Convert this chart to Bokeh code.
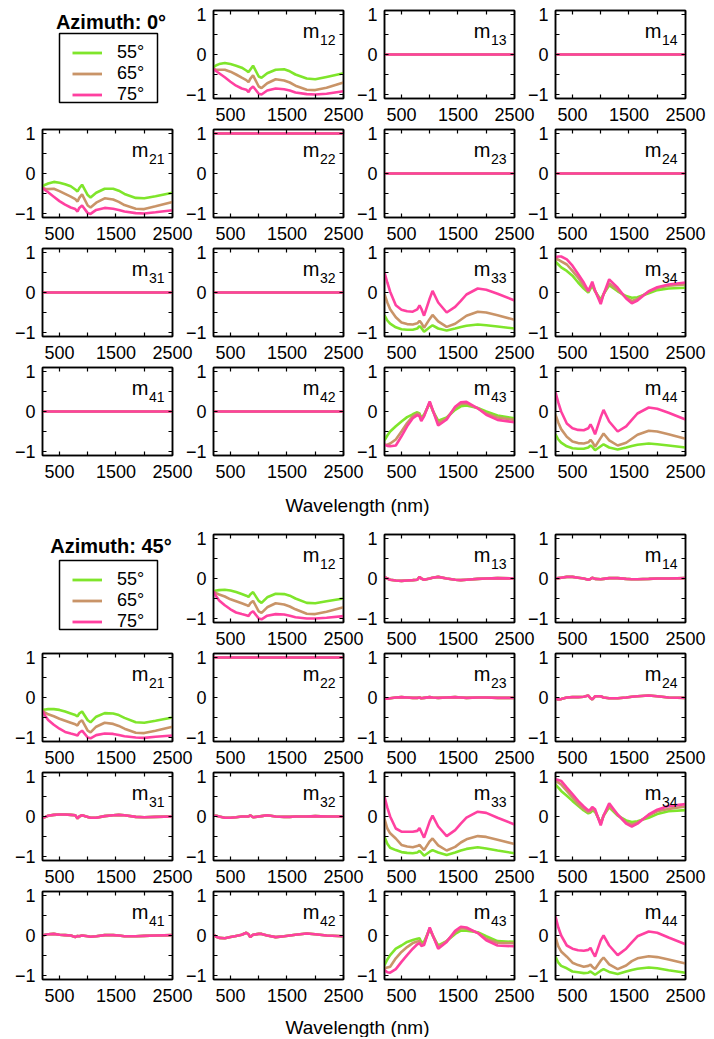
import numpy as np
from bokeh.plotting import figure
from bokeh.models import Range1d, FixedTicker, LinearAxis, Label, Legend, LegendItem, BoxAnnotation
from bokeh.layouts import column, row
from bokeh.embed import file_html
from bokeh.resources import INLINE

# ---------------- data ----------------
WL = [200, 250, 300, 400, 500, 600, 700, 780, 820, 850, 900, 1000, 1050, 1150, 1300, 1450, 1550, 1650, 1850, 2000, 2200, 2500]

ANGLES = ["55°", "65°", "75°"]
COLORS = ["#7FE52B", "#C99468", "#FF40A0"]

flat_zero = [0.00, 0.00, 0.00, 0.00, 0.00, 0.00, 0.00, 0.00, 0.00, 0.00, 0.00, 0.00, 0.00, 0.00, 0.00, 0.00, 0.00, 0.00, 0.00, 0.00, 0.00, 0.00]
flat_one = [1.00, 1.00, 1.00, 1.00, 1.00, 1.00, 1.00, 1.00, 1.00, 1.00, 1.00, 1.00, 1.00, 1.00, 1.00, 1.00, 1.00, 1.00, 1.00, 1.00, 1.00, 1.00]

# Azimuth 0
a0_m12_55 = [-0.32, -0.27, -0.24, -0.21, -0.24, -0.28, -0.33, -0.40, -0.44, -0.38, -0.28, -0.55, -0.58, -0.47, -0.38, -0.37, -0.42, -0.50, -0.60, -0.62, -0.56, -0.47]
a0_m12_65 = [-0.36, -0.38, -0.38, -0.38, -0.43, -0.50, -0.58, -0.64, -0.69, -0.61, -0.52, -0.80, -0.84, -0.72, -0.62, -0.65, -0.70, -0.78, -0.88, -0.89, -0.83, -0.70]
a0_m12_75 = [-0.36, -0.42, -0.47, -0.57, -0.68, -0.78, -0.85, -0.88, -0.94, -0.86, -0.80, -0.98, -1.00, -0.90, -0.85, -0.87, -0.90, -0.95, -0.99, -1.00, -0.98, -0.92]
a0_m21_55 = [-0.32, -0.28, -0.25, -0.21, -0.23, -0.27, -0.32, -0.40, -0.45, -0.37, -0.28, -0.54, -0.60, -0.48, -0.38, -0.38, -0.43, -0.51, -0.61, -0.62, -0.57, -0.48]
a0_m21_65 = [-0.36, -0.38, -0.39, -0.38, -0.44, -0.51, -0.58, -0.64, -0.70, -0.61, -0.52, -0.80, -0.85, -0.73, -0.62, -0.65, -0.71, -0.79, -0.88, -0.89, -0.82, -0.71]
a0_m21_75 = [-0.36, -0.42, -0.47, -0.58, -0.69, -0.78, -0.85, -0.89, -0.95, -0.86, -0.80, -0.99, -1.01, -0.91, -0.86, -0.88, -0.91, -0.95, -0.99, -1.00, -0.97, -0.92]
a0_m33_55 = [-0.57, -0.70, -0.78, -0.87, -0.92, -0.93, -0.93, -0.90, -0.84, -0.88, -0.98, -0.87, -0.82, -0.90, -0.95, -0.90, -0.86, -0.83, -0.80, -0.82, -0.85, -0.90]
a0_m33_65 = [-0.04, -0.25, -0.42, -0.62, -0.75, -0.79, -0.80, -0.77, -0.71, -0.76, -0.88, -0.66, -0.56, -0.72, -0.86, -0.78, -0.68, -0.58, -0.48, -0.50, -0.57, -0.68]
a0_m33_75 = [0.50, 0.25, 0.02, -0.32, -0.43, -0.47, -0.48, -0.42, -0.32, -0.40, -0.58, -0.15, 0.04, -0.25, -0.50, -0.36, -0.21, -0.05, 0.10, 0.07, -0.03, -0.20]
a0_m34_55 = [0.77, 0.70, 0.63, 0.54, 0.42, 0.25, 0.10, 0.00, 0.10, 0.17, 0.03, -0.18, -0.04, 0.18, 0.03, -0.09, -0.13, -0.12, -0.02, 0.06, 0.10, 0.12]
a0_m34_65 = [0.85, 0.82, 0.78, 0.70, 0.54, 0.37, 0.17, 0.02, 0.13, 0.21, 0.04, -0.23, -0.04, 0.23, 0.06, -0.13, -0.21, -0.16, 0.02, 0.11, 0.17, 0.20]
a0_m34_75 = [0.88, 0.90, 0.90, 0.83, 0.67, 0.46, 0.25, 0.04, 0.16, 0.27, 0.05, -0.29, -0.05, 0.33, 0.12, -0.15, -0.27, -0.20, 0.03, 0.13, 0.20, 0.25]
a0_m43_55 = [-0.72, -0.60, -0.50, -0.37, -0.25, -0.14, -0.07, -0.02, -0.05, -0.16, -0.08, 0.21, 0.03, -0.23, -0.15, 0.04, 0.13, 0.15, 0.09, 0.00, -0.10, -0.17]
a0_m43_65 = [-0.83, -0.83, -0.80, -0.70, -0.50, -0.29, -0.12, -0.05, -0.08, -0.20, -0.10, 0.23, 0.04, -0.29, -0.17, 0.10, 0.19, 0.20, 0.08, -0.05, -0.15, -0.21]
a0_m43_75 = [-0.83, -0.86, -0.87, -0.85, -0.62, -0.37, -0.17, -0.09, -0.12, -0.24, -0.12, 0.25, 0.05, -0.35, -0.20, 0.12, 0.23, 0.24, 0.08, -0.08, -0.21, -0.27]
a0_m44_55 = [-0.57, -0.70, -0.78, -0.87, -0.92, -0.93, -0.93, -0.90, -0.85, -0.88, -0.97, -0.87, -0.82, -0.90, -0.95, -0.90, -0.86, -0.83, -0.80, -0.82, -0.85, -0.90]
a0_m44_65 = [-0.08, -0.28, -0.44, -0.63, -0.75, -0.79, -0.80, -0.77, -0.71, -0.76, -0.88, -0.66, -0.55, -0.72, -0.85, -0.78, -0.68, -0.58, -0.48, -0.50, -0.57, -0.68]
a0_m44_75 = [0.48, 0.22, 0.00, -0.30, -0.42, -0.46, -0.47, -0.42, -0.32, -0.40, -0.57, -0.14, 0.04, -0.25, -0.50, -0.37, -0.21, -0.05, 0.10, 0.07, -0.03, -0.20]

# Azimuth 45
a45_m12_55 = [-0.32, -0.30, -0.29, -0.28, -0.30, -0.34, -0.39, -0.43, -0.46, -0.40, -0.34, -0.56, -0.61, -0.47, -0.38, -0.39, -0.43, -0.50, -0.61, -0.62, -0.57, -0.50]
a45_m12_65 = [-0.32, -0.37, -0.40, -0.45, -0.52, -0.57, -0.62, -0.66, -0.69, -0.62, -0.56, -0.82, -0.86, -0.72, -0.62, -0.65, -0.70, -0.77, -0.88, -0.89, -0.83, -0.72]
a45_m12_75 = [-0.33, -0.45, -0.55, -0.67, -0.77, -0.85, -0.89, -0.92, -0.94, -0.87, -0.82, -1.00, -1.02, -0.93, -0.89, -0.90, -0.93, -0.97, -1.00, -1.00, -0.98, -0.94]
a45_m21_55 = [-0.31, -0.30, -0.29, -0.29, -0.31, -0.35, -0.40, -0.44, -0.47, -0.40, -0.35, -0.57, -0.62, -0.48, -0.39, -0.40, -0.44, -0.51, -0.62, -0.63, -0.58, -0.50]
a45_m21_65 = [-0.33, -0.38, -0.42, -0.47, -0.53, -0.58, -0.63, -0.67, -0.70, -0.62, -0.57, -0.83, -0.87, -0.73, -0.63, -0.66, -0.71, -0.78, -0.88, -0.89, -0.83, -0.73]
a45_m21_75 = [-0.34, -0.46, -0.56, -0.68, -0.78, -0.86, -0.90, -0.93, -0.95, -0.88, -0.83, -1.00, -1.02, -0.94, -0.90, -0.91, -0.94, -0.97, -1.00, -1.01, -0.98, -0.95]
a45_m13 = [0.03, 0.00, -0.03, -0.05, -0.06, -0.05, -0.04, -0.03, 0.04, 0.00, -0.03, 0.00, 0.02, 0.04, 0.00, -0.03, -0.04, -0.03, -0.01, 0.00, 0.01, 0.00]
a45_m14 = [0.00, 0.01, 0.02, 0.04, 0.04, 0.02, 0.00, -0.03, -0.01, 0.02, -0.01, -0.02, -0.01, 0.01, 0.01, -0.01, -0.02, -0.02, -0.01, 0.00, 0.00, 0.01]
a45_m23 = [-0.03, -0.03, -0.02, 0.00, 0.01, 0.00, -0.01, -0.01, 0.00, -0.02, -0.01, 0.01, 0.00, -0.01, 0.00, 0.01, 0.00, -0.01, 0.00, 0.00, -0.01, -0.01]
a45_m24 = [-0.03, -0.05, -0.04, 0.00, 0.01, 0.01, 0.02, 0.05, -0.02, -0.05, 0.03, 0.03, 0.00, -0.02, -0.02, 0.00, 0.02, 0.03, 0.05, 0.03, 0.00, -0.01]
a45_m31 = [-0.03, -0.01, 0.02, 0.04, 0.05, 0.05, 0.04, 0.03, -0.05, 0.00, 0.03, -0.01, -0.03, -0.03, 0.01, 0.03, 0.04, 0.03, -0.01, -0.02, -0.01, 0.00]
a45_m32 = [0.02, 0.02, 0.00, -0.03, -0.03, -0.02, 0.00, 0.00, 0.00, 0.03, -0.02, 0.00, 0.01, 0.03, 0.00, -0.01, -0.01, 0.00, 0.00, 0.01, 0.00, 0.00]
a45_m41 = [0.00, 0.02, 0.03, 0.04, 0.02, 0.01, 0.00, -0.04, -0.01, -0.02, 0.00, -0.02, -0.03, -0.02, 0.01, 0.01, 0.00, -0.02, -0.02, -0.01, 0.00, 0.01]
a45_m42 = [0.02, -0.03, -0.06, -0.07, -0.04, -0.01, 0.02, 0.07, 0.03, -0.04, 0.02, 0.04, 0.04, 0.00, -0.04, -0.02, 0.00, 0.02, 0.05, 0.03, 0.00, -0.02]
a45_m33_55 = [-0.51, -0.68, -0.78, -0.84, -0.89, -0.91, -0.92, -0.90, -0.86, -0.90, -0.98, -0.88, -0.84, -0.90, -0.96, -0.90, -0.85, -0.81, -0.77, -0.80, -0.85, -0.92]
a45_m33_65 = [-0.06, -0.30, -0.42, -0.55, -0.71, -0.75, -0.77, -0.74, -0.71, -0.76, -0.84, -0.62, -0.55, -0.72, -0.85, -0.76, -0.65, -0.57, -0.49, -0.51, -0.58, -0.69]
a45_m33_75 = [0.49, 0.22, 0.00, -0.30, -0.38, -0.38, -0.38, -0.36, -0.29, -0.38, -0.53, -0.12, 0.02, -0.25, -0.49, -0.34, -0.18, -0.03, 0.12, 0.09, -0.03, -0.20]
a45_m34_55 = [0.80, 0.72, 0.64, 0.52, 0.39, 0.27, 0.15, 0.08, 0.10, 0.15, 0.12, -0.16, 0.02, 0.23, 0.02, -0.10, -0.14, -0.12, -0.03, 0.06, 0.13, 0.16]
a45_m34_65 = [0.89, 0.85, 0.80, 0.64, 0.48, 0.31, 0.19, 0.11, 0.14, 0.19, 0.14, -0.18, 0.02, 0.27, 0.04, -0.15, -0.20, -0.15, 0.03, 0.13, 0.19, 0.25]
a45_m34_75 = [0.93, 0.91, 0.89, 0.72, 0.56, 0.39, 0.25, 0.15, 0.18, 0.24, 0.18, -0.22, 0.02, 0.33, 0.05, -0.18, -0.25, -0.18, 0.05, 0.17, 0.26, 0.31]
a45_m43_55 = [-0.74, -0.60, -0.49, -0.33, -0.25, -0.16, -0.11, -0.08, -0.07, -0.17, -0.16, 0.16, 0.01, -0.25, -0.14, 0.04, 0.12, 0.12, 0.08, -0.02, -0.14, -0.16]
a45_m43_65 = [-0.82, -0.80, -0.78, -0.57, -0.41, -0.29, -0.19, -0.15, -0.14, -0.22, -0.20, 0.18, 0.01, -0.29, -0.14, 0.08, 0.18, 0.17, 0.07, -0.08, -0.18, -0.19]
a45_m43_75 = [-0.86, -0.92, -0.93, -0.84, -0.66, -0.49, -0.33, -0.22, -0.19, -0.26, -0.24, 0.20, 0.02, -0.33, -0.16, 0.12, 0.22, 0.20, 0.06, -0.12, -0.25, -0.27]
a45_m44_55 = [-0.53, -0.68, -0.76, -0.82, -0.90, -0.92, -0.94, -0.93, -0.90, -0.93, -0.98, -0.88, -0.84, -0.91, -0.96, -0.90, -0.86, -0.83, -0.80, -0.82, -0.87, -0.93]
a45_m44_65 = [-0.04, -0.27, -0.40, -0.53, -0.68, -0.74, -0.78, -0.76, -0.73, -0.78, -0.84, -0.63, -0.55, -0.72, -0.84, -0.75, -0.64, -0.57, -0.52, -0.54, -0.60, -0.70]
a45_m44_75 = [0.47, 0.20, 0.00, -0.25, -0.33, -0.37, -0.38, -0.36, -0.31, -0.40, -0.53, -0.12, 0.00, -0.25, -0.49, -0.33, -0.17, -0.02, 0.10, 0.07, -0.05, -0.22]

X_TICKS = [500, 1500, 2500]
X_MINOR = [1000, 2000]
Y_TICKS = [-1, 0, 1]
Y_MINOR = [-0.5, 0.5]

AZ0 = {
    "12": (a0_m12_55, a0_m12_65, a0_m12_75),
    "13": (flat_zero, flat_zero, flat_zero),
    "14": (flat_zero, flat_zero, flat_zero),
    "21": (a0_m21_55, a0_m21_65, a0_m21_75),
    "22": (flat_one, flat_one, flat_one),
    "23": (flat_zero, flat_zero, flat_zero),
    "24": (flat_zero, flat_zero, flat_zero),
    "31": (flat_zero, flat_zero, flat_zero),
    "32": (flat_zero, flat_zero, flat_zero),
    "33": (a0_m33_55, a0_m33_65, a0_m33_75),
    "34": (a0_m34_55, a0_m34_65, a0_m34_75),
    "41": (flat_zero, flat_zero, flat_zero),
    "42": (flat_zero, flat_zero, flat_zero),
    "43": (a0_m43_55, a0_m43_65, a0_m43_75),
    "44": (a0_m44_55, a0_m44_65, a0_m44_75),
}
AZ45 = {
    "12": (a45_m12_55, a45_m12_65, a45_m12_75),
    "13": (a45_m13, a45_m13, a45_m13),
    "14": (a45_m14, a45_m14, a45_m14),
    "21": (a45_m21_55, a45_m21_65, a45_m21_75),
    "22": (flat_one, flat_one, flat_one),
    "23": (a45_m23, a45_m23, a45_m23),
    "24": (a45_m24, a45_m24, a45_m24),
    "31": (a45_m31, a45_m31, a45_m31),
    "32": (a45_m32, a45_m32, a45_m32),
    "33": (a45_m33_55, a45_m33_65, a45_m33_75),
    "34": (a45_m34_55, a45_m34_65, a45_m34_75),
    "41": (a45_m41, a45_m41, a45_m41),
    "42": (a45_m42, a45_m42, a45_m42),
    "43": (a45_m43_55, a45_m43_65, a45_m43_75),
    "44": (a45_m44_55, a45_m44_65, a45_m44_75),
}

# ---------------- layout constants ----------------
FONT = "Liberation Sans"
BL, BR, BT, BB = 34, 22, 10, 30
FW, FH = 130, 88
FIG_W = BL + FW + BR          # 186
FIG_H = BT + FH + BB          # 128
ROW_STEP = 119
OVER_X = 15
COL_STEP = FIG_W - OVER_X     # 171
OVER_Y = FIG_H - ROW_STEP     # 9
XMIN, XMAX = 200, 2500
YMIN, YMAX = -1.1, 1.1


def sx(px):
    return XMIN + px / FW * (XMAX - XMIN)


def sy(px_from_top):
    return YMAX - px_from_top / FH * (YMAX - YMIN)


def style_axis(ax, ticker, show_labels, standoff):
    ax.ticker = ticker
    ax.axis_line_color = "black"
    ax.axis_line_width = 1.5
    ax.major_tick_line_color = "black"
    ax.minor_tick_line_color = "black"
    ax.major_tick_line_width = 1.2
    ax.minor_tick_line_width = 1.2
    ax.major_tick_in = 4
    ax.major_tick_out = 0
    ax.minor_tick_in = 4
    ax.minor_tick_out = 0
    if show_labels:
        ax.major_label_text_font = FONT
        ax.major_label_text_font_size = "18px"
        ax.major_label_text_color = "black"
        ax.major_label_standoff = standoff
    else:
        ax.major_label_text_color = None
        ax.major_label_text_font_size = "0px"
        ax.major_label_standoff = 0


def panel(key, series, r, c):
    p = figure(width=FIG_W, height=FIG_H, title=None,
               x_range=Range1d(XMIN, XMAX), y_range=Range1d(YMIN, YMAX),
               output_backend="svg", toolbar_location=None,
               min_border_left=BL, min_border_right=BR, min_border_top=BT, min_border_bottom=BB,
               background_fill_color=None, border_fill_color=None,
               outline_line_color="black", outline_line_width=1.5)
    p.grid.visible = False
    xt = FixedTicker(ticks=X_TICKS, minor_ticks=X_MINOR)
    yt = FixedTicker(ticks=Y_TICKS, minor_ticks=Y_MINOR)
    style_axis(p.xaxis[0], xt, True, 9)
    style_axis(p.yaxis[0], yt, True, 7)
    p.yaxis[0].major_label_overrides = {-1: "\u22121"}
    top = LinearAxis()
    style_axis(top, xt, False, 0)
    right = LinearAxis()
    style_axis(right, yt, False, 0)
    p.add_layout(top, "above")
    p.add_layout(right, "right")
    for ys, col in zip(series, COLORS):
        p.line(WL, ys, line_color=col, line_width=2.6)
    p.add_layout(Label(x=sx(FW - 24), y=sy(20.5), text="m", text_align="right",
                       text_baseline="alphabetic", text_font=FONT, text_font_size="20px",
                       text_color="black"))
    p.add_layout(Label(x=sx(FW - 8), y=sy(29.5), text=key, text_align="right",
                       text_baseline="alphabetic", text_font=FONT, text_font_size="14px",
                       text_color="black"))
    p.margin = (-OVER_Y if r > 1 else 0, -OVER_X if c < 4 else 0, 0, 0)
    return p


def legend_panel(title, dy):
    # its own row; the first matrix row is laid over it (negative bottom margin)
    p = figure(width=FIG_W, height=FIG_H, title=None,
               x_range=Range1d(0, FIG_W), y_range=Range1d(0, FIG_H),
               x_axis_type=None, y_axis_type=None, output_backend="svg",
               toolbar_location=None, min_border=0, outline_line_color=None,
               background_fill_color=None, border_fill_color=None)
    p.grid.visible = False
    dummy = np.array([np.nan])
    rs = [p.line(x=dummy, y=dummy, line_color=col, line_width=2.8) for col in COLORS]
    leg = Legend(items=[LegendItem(label=a, renderers=[rr]) for a, rr in zip(ANGLES, rs)],
                 location=(64, FIG_H - 41.5 - 63 - dy), padding=0, margin=0, spacing=0,
                 border_line_color=None, background_fill_alpha=0,
                 glyph_width=30, glyph_height=21, label_height=21, label_standoff=15,
                 label_text_font=FONT, label_text_font_size="18px", label_text_color="black")
    p.add_layout(leg)
    # data units here equal canvas pixels (x from left, y from bottom)
    p.add_layout(BoxAnnotation(left=51, right=149, top=FIG_H - 33 - dy, bottom=FIG_H - 102 - dy,
                               fill_alpha=0, line_color="black", line_alpha=1.0, line_width=1.5))
    p.add_layout(Label(x=102.5, y=FIG_H - 21.5, text=title, text_align="center",
                       text_baseline="middle", text_font=FONT, text_font_size="20px",
                       text_font_style="bold", text_color="black"))
    p.margin = (0, 0, -FIG_H, 0)
    return p


def strip(height, ybase):
    total_w = FIG_W * 4 - OVER_X * 3
    p = figure(width=total_w, height=height, title=None,
               x_range=Range1d(0, total_w), y_range=Range1d(0, height),
               x_axis_type=None, y_axis_type=None, output_backend="svg",
               toolbar_location=None, min_border=0, outline_line_color=None,
               background_fill_color=None, border_fill_color=None)
    p.grid.visible = False
    p.add_layout(Label(x=349, y=ybase, text="Wavelength (nm)", text_align="center",
                       text_baseline="alphabetic", text_font=FONT, text_font_size="19px",
                       text_color="black"))
    return p


def block(data, title, dy):
    items = [legend_panel(title, dy)]
    for i in range(1, 5):
        figs = []
        for j in range(1, 5):
            if i == 1 and j == 1:
                continue
            k = f"{i}{j}"
            figs.append(panel(k, data[k], i, j))
        if i == 1:
            items.append(row(*figs, margin=(0, 0, 0, COL_STEP)))
        else:
            items.append(row(*figs))
    return items


# block heights: 128 + 3*119 = 485
layout = column(*block(AZ0, "Azimuth: 0°", 0), strip(39, 19),
                *block(AZ45, "Azimuth: 45°", 3), strip(28, 10),
                margin=(0, 0, 0, 8))

open("out.html", "w").write(file_html(layout, INLINE))
